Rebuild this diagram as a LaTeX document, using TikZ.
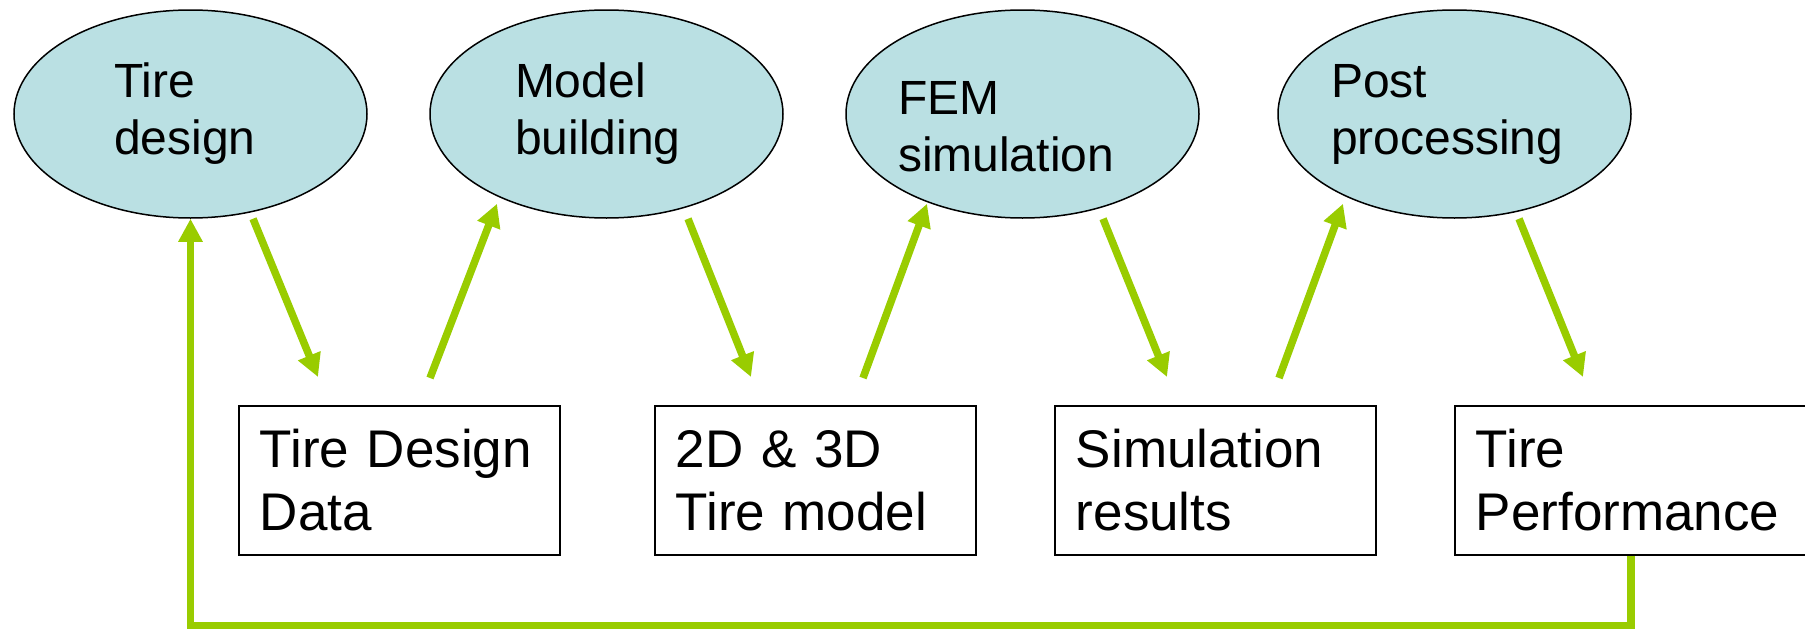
\documentclass[tikz,border=0pt]{standalone}
\usepackage{fontspec}
\setmainfont{Liberation Sans}
\usetikzlibrary{shapes.geometric,arrows.meta}
\definecolor{flowgreen}{RGB}{153,204,0}
\definecolor{phasefill}{RGB}{186,224,227}
\tikzset{
  phase/.style={ellipse, draw, line width=1.5pt, fill=phasefill,
    minimum width=353pt, minimum height=208pt, inner sep=0pt,
    align=left, font=\fontsize{48}{57}\selectfont},
  datum/.style={rectangle, draw, line width=1.75pt, anchor=north west,
    minimum height=149pt, inner xsep=21pt, text width=279pt,
    align=left, font=\fontsize{53}{63}\selectfont},
  flow/.style={flowgreen, line width=7.5pt, -{Triangle[length=23pt,width=23pt]}}
}
\begin{document}
\begin{tikzpicture}[x=1pt, y=-1pt]
  \useasboundingbox (0,0) rectangle (1805,629);
  % Phases
  \node[phase, text width=153pt] (design) at (190.5,114) {Tire\\design};
  \node[phase, text width=183pt] (model) at (606.5,114) {Model\\building};
  \node[phase, text width=249pt, text height=59pt] (fem) at (1022.5,114) {FEM\\simulation};
  \node[phase, text width=247pt] (post) at (1454.5,114) {Post\\processing};
  % Donnees
  \node[datum] (data) at (238,405) {Tire Design\\Data};
  \node[datum] (tiremodel) at (654,405) {2D \& 3D\\Tire model};
  \node[datum] (results) at (1054,405) {Simulation\\results};
  \node[datum, text width=340pt] (perf) at (1454,405) {Tire\\Performance};
  % Fleches
  \draw[flow] ([xshift=62.5pt]design.south) -- ([shift={(80,-28)}]data.north west);
  \draw[flow] ([shift={(192,-27)}]data.north west) -- ([shift={(-109.5,-15)}]model.south);
  \draw[flow] ([xshift=81.5pt]model.south) -- ([shift={(97,-28)}]tiremodel.north west);
  \draw[flow] ([shift={(209,-27)}]tiremodel.north west) -- ([shift={(-95.5,-15)}]fem.south);
  \draw[flow] ([xshift=80.5pt]fem.south) -- ([shift={(113,-28)}]results.north west);
  \draw[flow] ([shift={(225,-27)}]results.north west) -- ([shift={(-111.5,-15)}]post.south);
  \draw[flow] ([xshift=64.5pt]post.south) -- ([shift={(129,-28)}]perf.north west);
  % Retour
  \coordinate (back) at (190.5,626);
  \draw[flow] ([xshift=177pt]perf.south west) |- (back) -- (design.south);
\end{tikzpicture}
\end{document}
